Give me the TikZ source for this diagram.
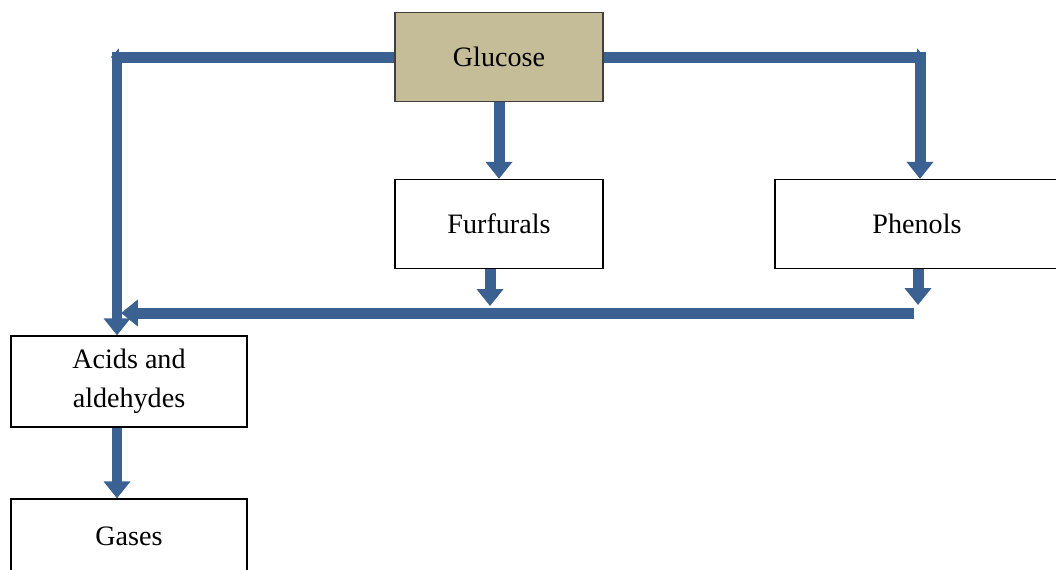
\documentclass[tikz,border=0pt]{standalone}
\usepackage{fontspec}
\setmainfont{Liberation Serif}
\usetikzlibrary{positioning,arrows.meta}
\definecolor{flowblue}{RGB}{59,97,146}
\definecolor{glutan}{RGB}{196,189,151}

\begin{document}
\begin{tikzpicture}[x=0.02cm, y=-0.02cm,
  box/.style={draw=black, line width=0.8pt, minimum width=4.16cm, minimum height=1.78cm,
    align=center, inner sep=0pt, font=\fontsize{16}{22}\selectfont},
  flow/.style={draw=flowblue, line width=0.22cm, -{Triangle[width=0.52cm,length=0.34cm]}},
  cornerflow/.style={draw=flowblue, line width=0.22cm, -{Triangle[width=0.34cm,length=0.16cm]}}]
\clip (0,0) rectangle (1056,569);

\node[box, fill=glutan, draw=black!75] (glucose) at (499,57) {Glucose};
\node[box] (furfurals) at (499,224) {Furfurals};
\node[box, minimum width=5.68cm] (phenols) at (917,224) {Phenols};
\node[box, minimum width=4.72cm, minimum height=1.82cm] (acids) at (129,381.5) {Acids and\\aldehydes};
\node[box, minimum width=4.72cm, minimum height=1.48cm] (gases) at (129,536) {Gases};

% corners and the collecting line
\coordinate (tipL) at (111,57);
\coordinate (topL) at (117,52);
\coordinate (tipR) at (925,57);
\coordinate (topR) at (920,52);
\coordinate (dropF) at (490,306);
\coordinate (dropP) at (918,305);
\coordinate (busR) at (914,313);
\coordinate (busL) at (121,313);

\draw[cornerflow] (glucose.west) -- (tipL);
\draw[flow] (topL) -- (topL |- acids.north);
\draw[cornerflow] (glucose.east) -- (tipR);
\draw[flow] (topR) -- (topR |- phenols.north);
\draw[flow] (glucose.south) -- (furfurals.north);

\draw[flow] (dropF |- furfurals.south) -- (dropF);
\draw[flow] (dropP |- phenols.south) -- (dropP);
\draw[flow] (busR) -- (busL);

\draw[flow] (acids.south -| topL) -- (gases.north -| topL);

\end{tikzpicture}
\end{document}
